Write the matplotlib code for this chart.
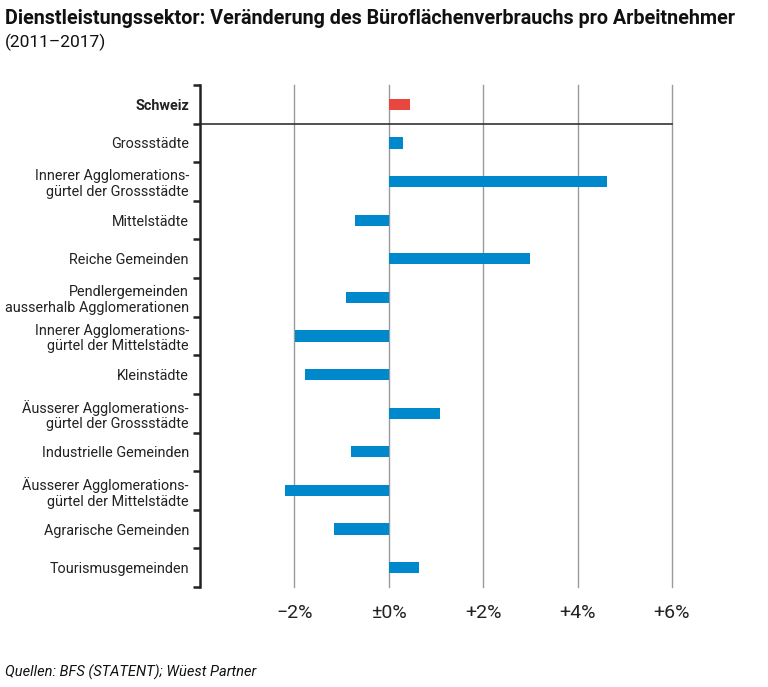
import matplotlib
matplotlib.use("Agg")
import matplotlib.pyplot as plt
from matplotlib.ticker import FixedLocator

plt.rcParams['font.family'] = ['Roboto', 'DejaVu Sans']

categories = [
    "Schweiz",
    "Grossstädte",
    "Innerer Agglomerations-\ngürtel der Grossstädte",
    "Mittelstädte",
    "Reiche Gemeinden",
    "Pendlergemeinden\nausserhalb Agglomerationen",
    "Innerer Agglomerations-\ngürtel der Mittelstädte",
    "Kleinstädte",
    "Äusserer Agglomerations-\ngürtel der Grossstädte",
    "Industrielle Gemeinden",
    "Äusserer Agglomerations-\ngürtel der Mittelstädte",
    "Agrarische Gemeinden",
    "Tourismusgemeinden",
]
values = [0.45, 0.30, 4.62, -0.72, 3.0, -0.90, -1.98, -1.78, 1.08, -0.81, -2.20, -1.17, 0.64]
xticks = [-2, 0, 2, 4, 6]
xticklabels = ["\u22122%", "\u00b10%", "+2%", "+4%", "+6%"]

blue = "#0088CC"
red = "#E8473F"

fig = plt.figure(figsize=(7.68, 6.87), dpi=100)
ax = fig.add_axes([200/768, 1-587/687, 472/768, (587-85)/687])

colors = [red] + [blue]*(len(values)-1)
ypos = list(range(len(values)))
ax.barh(ypos, values, height=0.29, color=colors, zorder=3)

ax.set_xlim(-4, 6)
ax.set_ylim(len(values)-0.5, -0.5)

for x in xticks:
    ax.axvline(x, color="#9a9a9a", lw=1.0, zorder=1, clip_on=False)
ax.plot([-4, 6], [0.5, 0.5], color="#333333", lw=1.2, zorder=2, clip_on=False)

for s in ["top", "right", "bottom"]:
    ax.spines[s].set_visible(False)
ax.spines["left"].set_linewidth(1.8)
ax.spines["left"].set_color("#222222")

ax.set_yticks(ypos)
ax.set_yticklabels(categories, fontsize=10.4, color="#222222", linespacing=1.15)
ax.get_yticklabels()[0].set_fontweight("bold")
ax.tick_params(axis="y", which="major", length=0, pad=8)
ax.yaxis.set_minor_locator(FixedLocator([i-0.5 for i in range(len(values)+1)]))
ax.tick_params(axis="y", which="minor", length=5, width=1.8, color="#222222")

ax.set_xticks(xticks)
ax.set_xticklabels(xticklabels, fontsize=14, color="#222222")
ax.tick_params(axis="x", length=0, pad=12)

fig.text(5/768, 1-18/687, "Dienstleistungssektor: Veränderung des Büroflächenverbrauchs pro Arbeitnehmer",
         fontsize=14.2, fontweight="bold", va="center", ha="left", color="#111111")
fig.text(5/768, 1-42/687, "(2011\u20132017)", fontsize=12.5, va="center", ha="left", color="#111111")
fig.text(5/768, 1-672/687, "Quellen: BFS (STATENT); Wüest Partner", fontsize=10.5, style="italic",
         va="center", ha="left", color="#111111")

fig.savefig("out.png", dpi=100)
